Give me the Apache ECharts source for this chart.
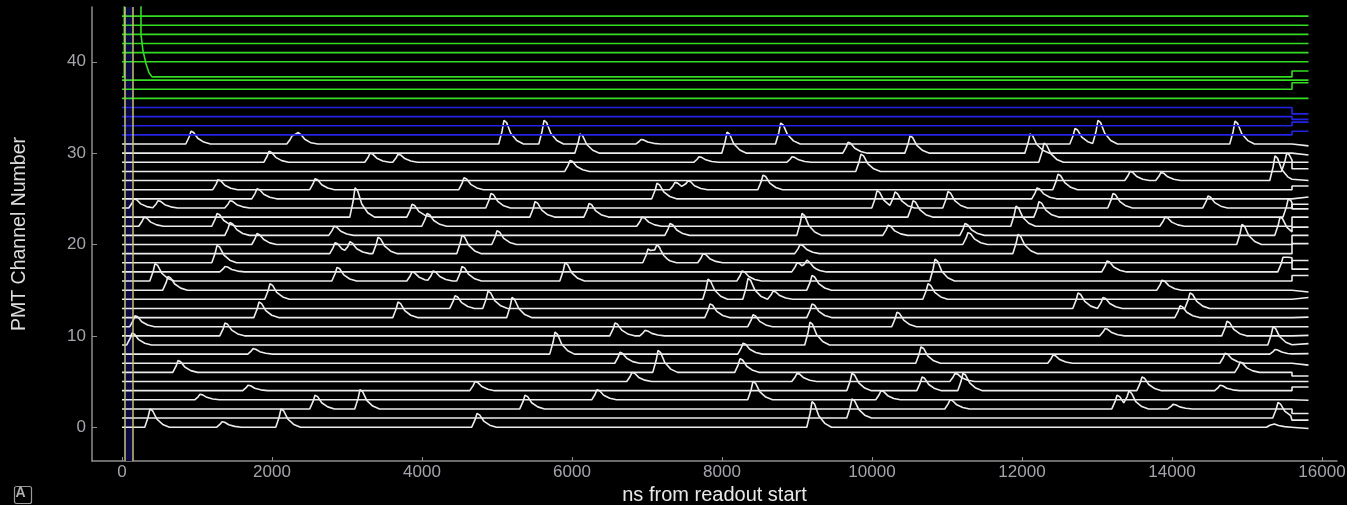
<!DOCTYPE html>
<html><head><meta charset="utf-8">
<script src="https://cdn.jsdelivr.net/npm/echarts@6/dist/echarts.min.js"></script>
<style>html,body{margin:0;padding:0;background:#000;}#c{width:1347px;height:505px;}</style>
</head><body><div id="c"></div>
<script>
// ---------------- data ----------------
const xTicks = [0, 2000, 4000, 6000, 8000, 10000, 12000, 14000, 16000];
const yTicks = [0, 10, 20, 30, 40];
const traceStart = 0;
const traceMainEnd = 15600;
const traceEnd = 15820;
// readout window marker (ns)
const windowStart = 31;
const windowEnd = 138;

// pulses per white channel 0..31 : [ns, amplitude in channel units]
const peaks = [
  /*0*/  [[373,2.0],[1333,0.6],[2120,2.0],[4733,1.5],[9200,2.8],[15330,0.4]],
  /*1*/  [[9733,2.1],[15413,1.7]],
  /*2*/  [[2573,1.5],[3173,2.1],[5373,1.5],[11040,1.0],[13267,1.5],[13427,1.7],[14013,0.5]],
  /*3*/  [[1040,0.6],[6333,1.1],[8413,2.0],[10120,1.0]],
  /*4*/  [[1680,0.6],[4707,1.0],[9733,1.9],[10667,1.5],[11213,1.9],[13600,1.5],[14640,0.6]],
  /*5*/  [[6800,1.0],[9000,0.9],[11107,0.9]],
  /*6*/  [[747,1.3],[7147,2.4],[8240,1.5],[14907,1.1]],
  /*7*/  [[6640,1.2],[10653,1.8],[12413,0.9],[14707,1.1]],
  /*8*/  [[1747,0.6],[5773,2.4],[8280,1.2],[15373,0.5]],
  /*9*/  [[133,1.3],[9173,2.5],[15347,2.0]],
  /*10*/ [[1373,1.4],[6573,1.4],[6973,0.6],[13107,0.8],[14733,1.6]],
  /*11*/ [[173,1.2],[8413,1.3],[10333,1.6]],
  /*12*/ [[1827,1.7],[3680,1.7],[5200,2.2],[7840,1.5],[9200,1.5],[14107,1.3]],
  /*13*/ [[4440,1.4],[4880,1.9],[12747,1.7],[13080,1.2],[14240,1.7]],
  /*14*/ [[1973,1.7],[7813,2.2],[8347,2.3],[8680,0.9],[10747,1.7]],
  /*15*/ [[613,1.5],[9200,1.6],[13867,1.1]],
  /*16*/ [[440,1.9],[2867,1.5],[3867,1.0],[4147,1.1],[4533,1.6],[5907,2.0],[8267,1.1],[10840,2.4]],
  /*17*/ [[1373,0.6],[9000,1.0],[9133,1.0],[13133,1.2],[15480,1.6],[15573,1.1]],
  /*18*/ [[1267,1.9],[7013,1.5],[7133,1.5],[7747,1.0]],
  /*19*/ [[2840,1.2],[3040,1.2],[3413,1.8],[4533,2.0],[9040,1.0],[11947,2.1]],
  /*20*/ [[1800,1.2],[5000,1.5],[11280,1.3],[14933,2.2]],
  /*21*/ [[1440,1.4],[2827,1.0],[7307,1.3],[9067,2.4],[10213,1.1],[11240,1.3],[15440,2.0]],
  /*22*/ [[293,1.0],[1267,1.4],[4067,1.4],[6933,1.0],[11920,2.2],[13907,1.0]],
  /*23*/ [[3107,3.2],[3867,1.4],[5507,1.7],[6227,1.5],[10547,1.8],[12227,1.7],[15550,2.0]],
  /*24*/ [[160,1.0],[480,0.8],[1440,0.8],[4920,1.6],[10067,1.9],[10307,1.7],[11013,1.8],[13213,1.6],[14480,1.3]],
  /*25*/ [[1800,1.1],[7133,1.7],[12200,1.2]],
  /*26*/ [[1280,1.1],[2573,1.2],[4560,1.3],[7373,0.8],[7547,0.9],[8547,1.6],[12480,1.7]],
  /*27*/ [[13440,1.0],[13853,0.9],[15373,2.7]],
  /*28*/ [[5973,1.2],[9853,1.9],[15530,2.0]],
  /*29*/ [[1960,1.2],[3307,1.0],[3680,0.9],[7693,0.6],[8933,0.6],[12293,2.1]],
  /*30*/ [[6107,2.1],[8067,2.3],[9680,1.2],[10507,1.9],[12107,2.1]],
  /*31*/ [[920,1.4],[2267,0.9],[2350,0.8],[5093,2.6],[5627,2.6],[6920,0.5],[8783,2.3],[12707,1.7],[13013,2.6],[14840,2.5]]
];
// baseline level of each trace (channel units), channels 0..45
const baseLevels = [0,1,2,3,4,5,6,7,8,9,10,11,12,13,14,15,16,17,18,19,20,21,22,23,24,25,26,27,28,29,30,31,
                    32,33,34,35,36,37,38,38.35,40,41,42,43,44,45];
// level of the last short segment of each trace, channels 0..45
const endLevels = [-0.15,0.77,1.5,2.95,4.4,5.0,5.6,6.8,8.05,9.15,10.05,11.0,12.05,13.0,14.2,14.8,16.6,17.3,18.25,20.1,21.0,21.9,23.0,23.9,24.4,25.2,26.4,27.0,28.3,29.0,29.8,30.8,
                   32.4,33.4,33.7,34.3,36,37.7,38,39,40,41,42,43,44,45];
// channel 39: saturated at start, then decays
const ch39SatLevel = 60;
const ch39SatEnd = 253;
const ch39Decay = [[253,43.0],[280,41.2],[320,39.8],[360,38.8],[400,38.35]];

// ---------------- build ----------------
const pulseShape = [[-70,0],[-25,0.55],[0,1],[35,0.9],[90,0.45],[170,0.15],[260,0]];
function shapeAt(dx){
  if (dx <= pulseShape[0][0] || dx >= pulseShape[pulseShape.length-1][0]) return 0;
  for (let i=1;i<pulseShape.length;i++){
    const a=pulseShape[i-1], b=pulseShape[i];
    if (dx<=b[0]) return a[1]+(b[1]-a[1])*(dx-a[0])/(b[0]-a[0]);
  }
  return 0;
}
function buildTrace(ch){
  const base = baseLevels[ch];
  const pk = ch < peaks.length ? peaks[ch] : [];
  const xs = new Set([traceStart, traceMainEnd]);
  pk.forEach(p => pulseShape.forEach(s => { const x=p[0]+s[0]; if (x>traceStart && x<traceMainEnd) xs.add(x); }));
  const sorted = Array.from(xs).sort((a,b)=>a-b);
  const pts = sorted.map(x => [x, base + pk.reduce((s,p)=>s + p[1]*shapeAt(x-p[0]), 0)]);
  pts.push([traceMainEnd, endLevels[ch]]);
  pts.push([traceEnd, endLevels[ch]]);
  return pts;
}
function buildCh39(){
  const base = baseLevels[39];
  const pts = [[traceStart, base],[windowStart, base],[windowStart, ch39SatLevel],[ch39SatEnd, ch39SatLevel]];
  ch39Decay.forEach(p=>pts.push(p));
  pts.push([traceMainEnd, base]);
  pts.push([traceMainEnd, endLevels[39]]);
  pts.push([traceEnd, endLevels[39]]);
  return pts;
}

const series = [];
for (let ch=0; ch<46; ch++){
  let color = '#ececec';
  if (ch>=32 && ch<=35) color = '#2323e6';
  if (ch>=36) color = '#33dd22';
  series.push({
    type:'line', name:'ch'+ch, data: ch===39 ? buildCh39() : buildTrace(ch),
    showSymbol:false, symbol:'none', clip:true, silent:true,
    lineStyle:{color:color, width:1.6}, z: 3
  });
}
// readout window marker
series.push({
  type:'line', data:[], silent:true, z:2,
  markArea:{silent:true, itemStyle:{color:'#0a0a40'}, data:[[{xAxis:windowStart},{xAxis:windowEnd}]]},
  markLine:{silent:true, symbol:'none', label:{show:false},
    lineStyle:{color:'#c8c27a', width:1.5, type:'solid'},
    data:[{xAxis:windowStart},{xAxis:windowEnd}]}
});

const axisColor = '#8e8e8e';
const labelColor = '#a4a4ac';
const fontFam = '"Liberation Sans", Arial, sans-serif';
const chart = echarts.init(document.getElementById('c'), null, {renderer:'canvas'});
chart.setOption({
  backgroundColor:'#000',
  animation:false,
  grid:{left:92, right:10, top:7, bottom:44, containLabel:false, outerBoundsMode:'none'},
  xAxis:{
    type:'value', min:-400, max:16200,
    name:'ns from readout start', nameLocation:'middle', nameGap:19,
    nameTextStyle:{color:'#e8e8e8', fontSize:20, fontFamily:fontFam},
    axisLine:{onZero:false, lineStyle:{color:axisColor, width:1.5}},
    axisTick:{show:true, inside:true, length:4, customValues:xTicks, lineStyle:{color:axisColor}},
    axisLabel:{customValues:xTicks, color:labelColor, fontSize:17, fontFamily:fontFam, margin:3,
               formatter:function(v){return String(v);}},
    splitLine:{show:false}
  },
  yAxis:{
    type:'value', min:-3.7, max:46,
    name:'PMT Channel Number', nameLocation:'middle', nameGap:62, nameRotate:90,
    nameTextStyle:{color:'#dcdcdc', fontSize:19.5, fontFamily:fontFam},
    axisLine:{onZero:false, lineStyle:{color:axisColor, width:1.5}},
    axisTick:{show:true, inside:true, length:5, customValues:yTicks, lineStyle:{color:axisColor}},
    axisLabel:{customValues:yTicks, color:labelColor, fontSize:17, fontFamily:fontFam, margin:6,
               formatter:function(v){return String(v);}},
    splitLine:{show:false}
  },
  graphic:[
    {type:'rect', left:12, top:484, shape:{width:17, height:17, r:2}, style:{fill:'none', stroke:'#9a9a9a', lineWidth:1.2}},
    {type:'text', x:20.5, y:493, style:{text:'A', fill:'#b0b0b0', font:'bold 14px "Liberation Sans", Arial', align:'center', verticalAlign:'middle'}}
  ],
  series: series
});
</script></body></html>
